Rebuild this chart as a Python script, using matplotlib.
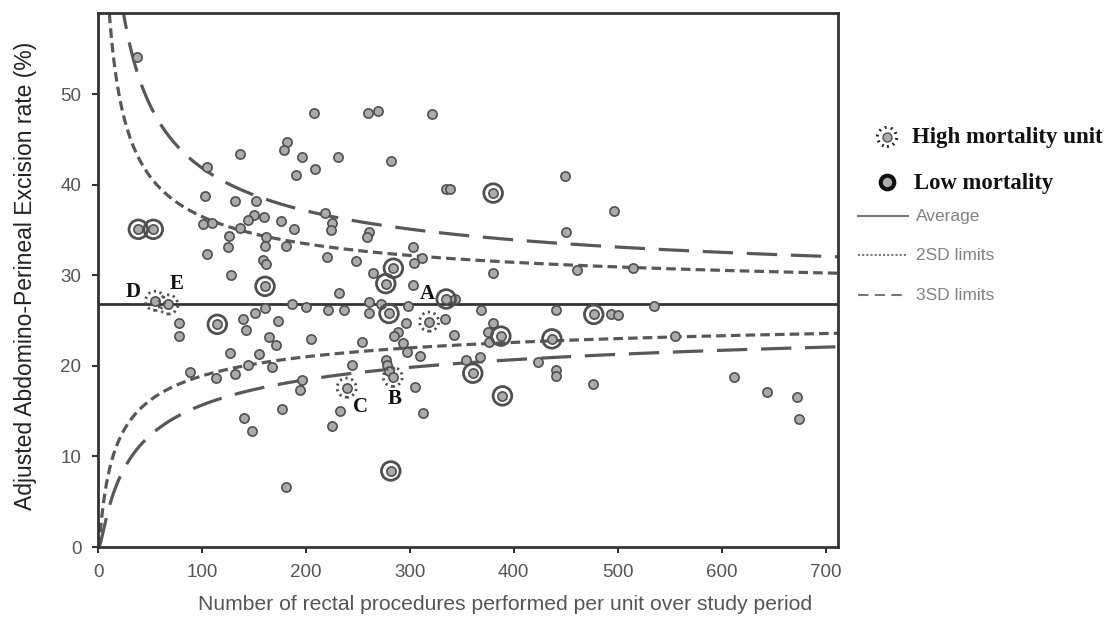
import numpy as np
import matplotlib
matplotlib.use("Agg")
import matplotlib.pyplot as plt

# ---------------- data ----------------
# ordinary units: (procedures, adjusted APE rate %)
unit_n = [37.2, 207.9, 182.2, 178.7, 136.7, 196, 231, 209, 190.6, 105.2, 103.3, 131.9, 152.4,
          218.2, 225.2, 224, 160, 150.4, 144.4, 176.1, 189, 101.4, 109.4, 136.7, 125.8, 124.8,
          161.4, 160.7, 180.6, 105.2, 159.1, 161.4, 220, 127.7,
          232, 187, 160.7, 200.2, 221.7, 237, 78, 78, 139.6, 151.4, 173, 142.4, 164.6, 171,
          204.7, 126.7, 155.3, 144.4, 167.2, 88.5, 113.3, 131.9, 196, 194.7, 177.1, 140.8,
          148.5, 181, 233, 225.2,
          259.6, 269.8, 321.8, 282, 449.5, 335, 338.8, 450.4, 260.8, 258.9, 303.2, 311.5, 304.1,
          248, 264.4, 380.5, 461.3, 303.2, 343.6, 261.1, 272, 298.7, 261.1, 368.9, 440.8,
          296.4, 334.3, 288.4, 285.2, 293.9, 297, 342.9, 379.8, 375.7, 376.3, 253.8, 309.9,
          244.2, 276.9, 277.8, 280.4, 354.2, 367.7, 423.8, 440.8, 440.8, 305.1, 312.4,
          496.6, 515.2, 493.7, 500.2, 535.1, 555.3, 476.7, 612.4, 643.5, 672.8, 674.7]
unit_rate = [54.1, 47.9, 44.8, 43.9, 43.4, 43.1, 43.1, 41.8, 41.1, 42.0, 38.8, 38.2, 38.2,
             36.9, 35.8, 35.0, 36.5, 36.7, 36.1, 36.0, 35.1, 35.7, 35.8, 35.3, 34.4, 33.1,
             34.3, 33.3, 33.3, 32.4, 31.7, 31.3, 32.0, 30.0,
             28.1, 26.9, 26.4, 26.5, 26.2, 26.2, 24.7, 23.3, 25.2, 25.8, 25.0, 24.0, 23.2, 22.3,
             23.0, 21.4, 21.3, 20.1, 19.9, 19.3, 18.7, 19.1, 18.5, 17.4, 15.3, 14.3,
             12.8, 6.6, 15.0, 13.4,
             48.0, 48.2, 47.8, 42.7, 41.0, 39.5, 39.5, 34.8, 34.8, 34.2, 33.2, 31.9, 31.4,
             31.6, 30.3, 30.3, 30.6, 28.9, 27.4, 27.1, 26.8, 26.6, 25.8, 26.2, 26.2,
             24.8, 25.2, 23.7, 23.3, 22.5, 21.6, 23.4, 24.8, 23.7, 22.6, 22.6, 21.1,
             20.1, 20.7, 20.1, 19.4, 20.7, 21.0, 20.4, 19.6, 18.9, 17.7, 14.8,
             37.1, 30.8, 25.7, 25.6, 26.6, 23.3, 18.0, 18.8, 17.1, 16.6, 14.1]

# low mortality units
low_n = [38.8, 53.2, 160.7, 114.8, 380.2, 284.2, 276.9, 335, 280, 477, 387.6, 436.7, 360.6, 389.1, 281.7]
low_rate = [35.1, 35.1, 28.8, 24.6, 39.1, 30.8, 29.1, 27.4, 25.8, 25.7, 23.3, 23.0, 19.2, 16.7, 8.4]

# high mortality units
high_labels = ["A", "B", "C", "D", "E"]
high_n = [318.6, 283.6, 239.3, 54.9, 67.7]
high_rate = [24.9, 18.8, 17.6, 27.2, 26.8]

average_rate = 26.8  # %

x_ticks = [0, 100, 200, 300, 400, 500, 600, 700]
y_ticks = [0, 10, 20, 30, 40, 50]

# --------------- figure ---------------
plt.rcParams['font.family'] = ['Liberation Sans', 'DejaVu Sans']
fig = plt.figure(figsize=(11.2, 6.18), dpi=100)
ax = fig.add_axes([98/1120, 1 - 547/618, (838-98)/1120, (547-13)/618])
ax.set_xlim(0, 712)
ax.set_ylim(0, 59)

# funnel (logit-based control limits)
p = average_rate / 100
n = np.linspace(0.3, 712, 3000)
se = 1 / np.sqrt(n * p * (1 - p))
lg = np.log(p / (1 - p))
def inv(z):
    return 100 / (1 + np.exp(-z))

fc = '#585858'
ax.axhline(average_rate, color='#333333', lw=2.0, zorder=2)
for k, ds in [(2, (3.0, 1.6)), (3, (9.5, 4.3))]:
    ax.plot(n, inv(lg + k * se), color=fc, lw=2.3, dashes=ds, zorder=2)
    ax.plot(n, inv(lg - k * se), color=fc, lw=2.3, dashes=ds, zorder=2)

dot_face = '#ababab'
dot_edge = '#505050'
ax.scatter(unit_n, unit_rate, s=44, facecolor=dot_face, edgecolor=dot_edge, linewidths=1.2, zorder=3)
ax.scatter(low_n, low_rate, s=44, facecolor=dot_face, edgecolor=dot_edge, linewidths=1.2, zorder=3)
ax.scatter(low_n, low_rate, s=180, facecolor='none', edgecolor=dot_edge, linewidths=2.0, zorder=3)
ax.scatter(high_n, high_rate, s=44, facecolor=dot_face, edgecolor=dot_edge, linewidths=1.2, zorder=3)
ax.scatter(high_n, high_rate, s=190, facecolor='none', edgecolor=dot_edge, linewidths=2.0,
           linestyles=(0, (0.8, 1.3)), zorder=3)

label_offsets = {"A": (-1.5, 20), "B": (1.5, -16), "C": (10, -14), "D": (-16, 6), "E": (6, 15)}
for lab, xn, yr in zip(high_labels, high_n, high_rate):
    ax.annotate(lab, (xn, yr), xytext=label_offsets[lab], textcoords='offset points',
                ha='center', va='center', fontsize=15, fontweight='bold',
                family='Liberation Serif', color='#111111', zorder=4)

ax.set_xticks(x_ticks)
ax.set_yticks(y_ticks)
ax.tick_params(axis='both', labelsize=13.5, labelcolor='#555555', color='#333333',
               width=1.5, length=4, pad=8, direction='out')
for s in ax.spines.values():
    s.set_color('#333333')
    s.set_linewidth(2.0)

ax.set_xlabel('Number of rectal procedures performed per unit over study period',
              fontsize=15.2, color='#555555')
ax.xaxis.set_label_coords((505 - 98) / 740, -(604 - 547) / 534)
ax.xaxis.label.set_verticalalignment('center')
ax.set_ylabel('Adjusted Abdomino-Perineal Excision rate (%)', fontsize=16.5,
              color='#222222')
ax.yaxis.set_label_coords((26 - 98) / 740, (547 - 276) / 534)
ax.yaxis.label.set_verticalalignment('center')

# --------------- legend (outside, right) ---------------
lax = fig.add_axes([0, 0, 1, 1])
lax.set_xlim(0, 1120)
lax.set_ylim(618, 0)
lax.axis('off')
lax.scatter([887], [137], s=42, facecolor=dot_face, edgecolor=dot_edge, linewidths=1.0)
lax.scatter([887], [137], s=190, facecolor='none', edgecolor='#222222', linewidths=2.2,
            linestyles=(0, (0.6, 1.4)))
lax.scatter([887], [182], s=95, facecolor=dot_face, edgecolor='#111111', linewidths=3.0)
lax.text(912, 137, 'High mortality unit', fontsize=16.5, fontweight='bold',
         family='Liberation Serif', va='center', ha='left', color='#111111')
lax.text(914, 183, 'Low mortality', fontsize=16.3, fontweight='bold',
         family='Liberation Serif', va='center', ha='left', color='#111111')
lax.plot([858, 908], [216, 216], color='#777777', lw=1.5)
lax.plot([858, 908], [255, 255], color='#777777', lw=1.5, dashes=(1, 1))
lax.plot([858, 908], [295, 295], color='#777777', lw=1.5, dashes=(5, 3))
for yy, txt in [(216, 'Average'), (255, '2SD limits'), (295, '3SD limits')]:
    lax.text(916, yy, txt, fontsize=12.5, va='center', ha='left', color='#808080')

fig.savefig('out.png', dpi=100)
